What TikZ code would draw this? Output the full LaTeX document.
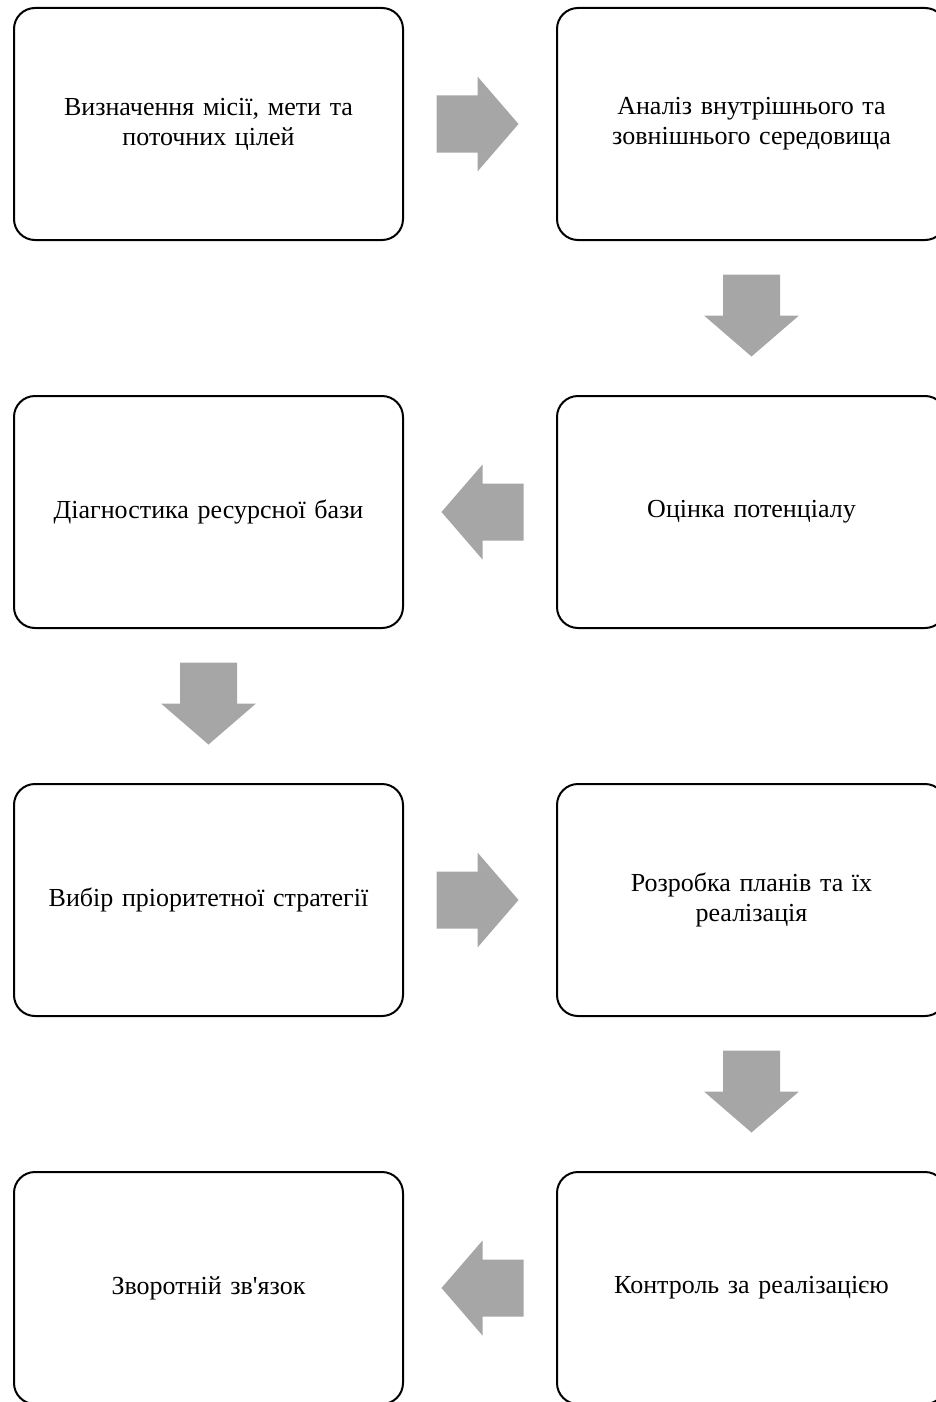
\documentclass[tikz,border=0pt]{standalone}
\usepackage{fontspec}
\setmainfont{Liberation Serif}
\definecolor{arrowgray}{RGB}{166,166,166}
\begin{document}
\begin{tikzpicture}[x=1pt,y=-1pt,
  stage/.style={draw=black, line width=2pt, rounded corners=21pt,
    minimum width=389pt, minimum height=232pt, inner sep=0pt,
    align=center, text width=360pt,
    font=\fontsize{26}{30}\selectfont},
  blockarrow/.pic={
    \fill[arrowgray] (-41,-28.5) -- (0,-28.5) -- (0,-47.5) -- (41,0)
      -- (0,47.5) -- (0,28.5) -- (-41,28.5) -- cycle;}]
\useasboundingbox (0,0) rectangle (936,1402);
\clip (0,0) rectangle (936,1402);

% stage boxes, two columns, four rows
\node[stage] (mission)  at (208.5,124)  {Визначення місії, мети та\\поточних цілей};
\node[stage] (env)      at (751.5,124)  {Аналіз внутрішнього та\\зовнішнього середовища};
\node[stage] (resource) at (208.5,512)  {Діагностика ресурсної бази};
\node[stage] (potential)at (751.5,512)  {Оцінка потенціалу};
\node[stage] (choice)   at (208.5,900)  {Вибір пріоритетної стратегії};
\node[stage] (plans)    at (751.5,900)  {Розробка планів та їх\\реалізація};
\node[stage] (feedback) at (208.5,1288) {Зворотній зв\textquotesingle язок};
\node[stage] (control)  at (751.5,1288) {Контроль за реалізацією};

% block arrows between the stages
\pic at (477.5,124) {blockarrow};
\pic[rotate=-90] at (751.5,315.5) {blockarrow};
\pic[rotate=180] at (482.5,512) {blockarrow};
\pic[rotate=-90] at (208.5,703.5) {blockarrow};
\pic at (477.5,900) {blockarrow};
\pic[rotate=-90] at (751.5,1091.5) {blockarrow};
\pic[rotate=180] at (482.5,1288) {blockarrow};
\end{tikzpicture}
\end{document}
